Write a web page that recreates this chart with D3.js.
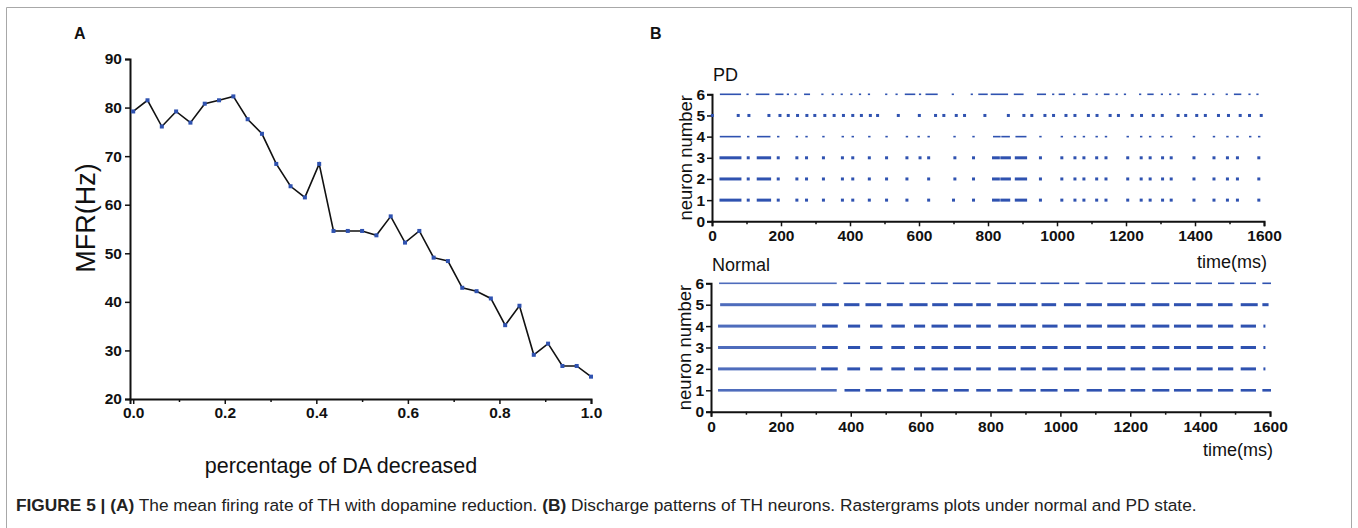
<!DOCTYPE html>
<html>
<head>
<meta charset="utf-8">
<title>Figure 5</title>
<script src="https://d3js.org/d3.v7.min.js"></script>
<style>
body { margin: 0; background: #fff; }
text { font-family: "Liberation Sans", Arial, sans-serif; }
</style>
</head>
<body>
<div id="chart"></div>
<script type="text/javascript">

// ---- panel A data: mean firing rate vs percentage of DA decreased
var daLevels = [0, 0.03125, 0.0625, 0.09375, 0.125, 0.15625, 0.1875, 0.21875, 0.25, 0.28125,
  0.3125, 0.34375, 0.375, 0.40625, 0.4375, 0.46875, 0.5, 0.53125, 0.5625, 0.59375,
  0.625, 0.65625, 0.6875, 0.71875, 0.75, 0.78125, 0.8125, 0.84375, 0.875, 0.90625,
  0.9375, 0.96875, 1.0];
var mfr = [79.2, 81.5, 76.1, 79.2, 76.9, 80.8, 81.5, 82.3, 77.6, 74.6,
  68.4, 63.8, 61.5, 68.4, 54.6, 54.6, 54.6, 53.7, 57.6, 52.2,
  54.6, 49.1, 48.4, 42.9, 42.2, 40.7, 35.2, 39.2, 29.1, 31.4,
  26.8, 26.8, 24.6];
var aTicksY = [20, 30, 40, 50, 60, 70, 80, 90];
var aTicksX = [0, 0.2, 0.4, 0.6, 0.8, 1.0];

// ---- panel B data: spike times (ms); a pair is a burst [start, end]
var neurons = [1, 2, 3, 4, 5, 6];
var pd1 = [[26,81],105,[134,167],192,246,274,323,378,408,456,506,565,628,700,758,[816,830],[840,860],[882,909],952,1014,1052,1078,1115,1142,1205,1244,1270,1306,1331,1397,1455,1494,1523,1585];
var pd2 = [[26,81],105,[134,167],192,246,274,323,378,408,456,506,565,628,704,758,[816,830],[840,862],[882,909],952,1014,1052,1078,1115,1142,1205,1244,1270,1306,1331,1397,1455,1494,1523,1585];
var pd3 = [[26,81],105,[134,167],192,246,274,323,378,408,456,506,565,603,628,704,758,[816,830],[840,862],[882,909],952,1014,1052,1078,1115,1142,1205,1244,1270,1306,1331,1397,1455,1494,1523,1585];
var pd4 = [[26,80],105,[134,166],192,246,274,323,379,408,456,506,565,599,628,703,758,[818,833],[842,860],[883,908],952,1014,1052,1078,1115,1142,1205,1244,1270,1306,1331,1397,1455,1494,1523,1560,1586];
var pd5 = [1,76,107,165,197,221,248,275,298,327,354,381,408,433,459,480,540,601,648,672,708,732,791,859,904,927,965,990,1026,1052,1091,1116,1154,1178,1218,1245,1279,1305,1351,1373,1405,1430,1468,1497,1531,1558,1592];
var pd6 = [[26,81],103,[130,163],[187,204],220,242,[270,281],320,350,376,404,429,455,505,535,[562,586],603,[622,651],698,753,[775,796],[811,855],[878,900],[945,965],989,[1008,1020],1050,[1076,1086],1115,[1139,1149],1173,1197,1241,[1265,1277],1304,1328,1352,[1393,1405],1429,1453,1492,[1516,1531],1558,1581];

var nm1 = [[23,357],[385,424],[445,484],[506,546],[571,610],[636,675],[698,735],[762,798],[822,860],[886,927],[946,989],[1013,1051],[1078,1116],[1140,1183],[1204,1240],[1266,1309],[1328,1371],[1393,1433],[1454,1492],[1519,1557],[1581,1600]];
var nm2 = [[23,298],[318,360],[393,424],[458,488],[519,552],[584,610],[634,675],[698,741],[762,798],[825,870],[889,927],[951,989],[1013,1056],[1078,1116],[1137,1183],[1204,1240],[1266,1309],[1328,1371],[1393,1433],[1454,1492],[1519,1557],[1584,1584]];
var nm3 = [[23,298],[321,360],[395,424],[458,488],[519,552],[584,610],[634,675],[698,741],[762,798],[825,870],[889,927],[951,989],[1013,1056],[1078,1116],[1137,1183],[1204,1240],[1266,1309],[1328,1371],[1393,1433],[1454,1492],[1519,1557],[1584,1584]];
var nm4 = [[23,298],[321,360],[395,424],[458,488],[519,552],[584,610],[634,675],[698,741],[762,798],[825,870],[889,927],[951,989],[1013,1056],[1078,1116],[1137,1183],[1204,1240],[1266,1309],[1328,1371],[1393,1433],[1454,1492],[1519,1557],[1584,1584]];
var nm5 = [[29,298],[321,363],[384,422],[445,484],[506,546],[571,617],[636,675],[698,746],[762,798],[822,870],[886,932],[949,985],[1013,1056],[1078,1116],[1137,1185],[1204,1240],[1266,1309],[1328,1371],[1393,1433],[1454,1490],[1519,1562],[1581,1593]];
var nm6 = [[26,357],[382,424],[445,484],[506,550],[571,610],[632,675],[695,741],[760,797],[822,870],[886,927],[946,994],[1013,1051],[1075,1118],[1137,1183],[1202,1240],[1263,1309],[1328,1371],[1390,1431],[1454,1495],[1517,1557],[1581,1600]];

var pdTrains = [pd1, pd2, pd3, pd4, pd5, pd6];
var normalTrains = [nm1, nm2, nm3, nm4, nm5, nm6];
var bTicksX = [0, 200, 400, 600, 800, 1000, 1200, 1400, 1600];
var bTicksY = [0, 1, 2, 3, 4, 5, 6];

var blue = "#2f52b0";
var W = 1358, H = 528;

var svg = d3.select("#chart").append("svg")
  .attr("width", W).attr("height", H);

// frame
svg.append("path").attr("d", "M6.5," + H + "V7.5H1351.5V" + H)
  .attr("fill", "none").attr("stroke", "#a8a8a8").attr("stroke-width", 1);

function styleTicks(g){
  g.selectAll(".domain").attr("stroke", "#111").attr("stroke-width", 2);
  g.selectAll(".tick line").attr("stroke", "#111").attr("stroke-width", 1.5);
  g.selectAll(".tick text")
    .style("font-size", "15.5px").style("font-weight", "bold")
    .style("font-family", "'Liberation Sans', Arial, sans-serif")
    .attr("fill", "#111");
}

// ================= panel A =================
var ax = d3.scaleLinear().domain([-0.007, 1.0]).range([130, 591]);
var ay = d3.scaleLinear().domain([20, 90]).range([399, 59]);

var gA = svg.append("g");

gA.append("g").attr("transform", "translate(130,0)")
  .call(d3.axisLeft(ay).tickValues(aTicksY).tickSize(5).tickPadding(3).tickFormat(d3.format("d")));
gA.append("g").attr("transform", "translate(0,399)")
  .call(d3.axisBottom(ax).tickValues(aTicksX).tickSize(5).tickPadding(3).tickFormat(d3.format(".1f")));
// minor ticks on x
gA.append("g").attr("transform", "translate(0,399)")
  .call(d3.axisBottom(ax).tickValues([0.1, 0.3, 0.5, 0.7, 0.9]).tickSize(3).tickFormat(""))
  .select(".domain").remove();
styleTicks(gA);

var line = d3.line().x(function(d, i){ return ax(daLevels[i]); }).y(function(d){ return ay(d); });
gA.append("path").datum(mfr).attr("d", line)
  .attr("fill", "none").attr("stroke", "#111").attr("stroke-width", 1.6);

gA.selectAll("rect.pt").data(mfr).enter().append("rect").attr("class", "pt")
  .attr("x", function(d, i){ return ax(daLevels[i]) - 2; })
  .attr("y", function(d){ return ay(d) - 2; })
  .attr("width", 4).attr("height", 4).attr("fill", blue);

gA.append("text")
  .attr("transform", "translate(95," + 218 + ") rotate(-90)")
  .attr("text-anchor", "middle").attr("font-size", 27).attr("fill", "#111")
  .text("MFR(Hz)");

gA.append("text").attr("x", 341).attr("y", 473)
  .attr("text-anchor", "middle").attr("font-size", 21.5).attr("fill", "#111")
  .text("percentage of DA decreased");

svg.append("text").attr("x", 74).attr("y", 39).attr("font-size", 16).attr("font-weight", "bold")
  .attr("fill", "#111").text("A");
svg.append("text").attr("x", 650).attr("y", 39).attr("font-size", 16).attr("font-weight", "bold")
  .attr("fill", "#111").text("B");

// ================= panel B =================
function spans(train){
  return train.map(function(e){ return Array.isArray(e) ? e : [e, e]; });
}

// per neuron mark style (index 0 = neuron 1)
var pdMarkH = [3, 3, 3, 1.6, 3, 1.6];
var pdMarkW = [3, 3, 3, 2.4, 3, 2.2];
var nmMarkH = [2.6, 3, 3, 3, 3, 1.6];

function raster(trains, x0, x1, y0, y1, title, titleY, xlabY, markH, markW){
  var x = d3.scaleLinear().domain([0, 1600]).range([x0, x1]);
  var y = d3.scaleLinear().domain([0, 6]).range([y1, y0]);
  var g = svg.append("g");

  g.append("g").attr("transform", "translate(" + x0 + ",0)")
    .call(d3.axisLeft(y).tickValues(bTicksY).tickSize(5).tickPadding(2).tickFormat(d3.format("d")));
  g.append("g").attr("transform", "translate(0," + y1 + ")")
    .call(d3.axisBottom(x).tickValues(bTicksX).tickSize(5).tickPadding(4).tickFormat(d3.format("d")));
  g.append("g").attr("transform", "translate(0," + y1 + ")")
    .call(d3.axisBottom(x).tickValues([100, 300, 500, 700, 900, 1100, 1300, 1500]).tickSize(3).tickFormat(""))
    .select(".domain").remove();
  styleTicks(g);

  trains.forEach(function(train, k){
    var h = markH[k], w = markW ? markW[k] : 2;
    g.selectAll("rect.n" + k).data(spans(train)).enter().append("rect").attr("class", "n" + k)
      .attr("x", function(d){ return x(d[0]) - w / 2; })
      .attr("width", function(d){ return x(d[1]) - x(d[0]) + w; })
      .attr("y", y(neurons[k]) - h / 2)
      .attr("height", h)
      .attr("fill", blue)
      .attr("fill-opacity", function(d){ return d[1] - d[0] > 150 ? 0.85 : 1; });
  });

  g.append("text").attr("x", x0 + 1).attr("y", titleY)
    .attr("font-size", 18).attr("fill", "#111").text(title);
  g.append("text")
    .attr("transform", "translate(" + (x0 - 20) + "," + ((y0 + y1) / 2) + ") rotate(-90)")
    .attr("text-anchor", "middle").attr("font-size", 18.5).attr("fill", "#111")
    .text("neuron number");
  g.append("text").attr("x", x1 + 3).attr("y", xlabY)
    .attr("text-anchor", "end").attr("font-size", 18).attr("fill", "#111")
    .text("time(ms)");
}

raster(pdTrains, 712, 1264, 94.3, 221.3, "PD", 81, 268, pdMarkH, pdMarkW);
raster(normalTrains, 711, 1270, 283.3, 411.7, "Normal", 271, 456, nmMarkH, null);

// ================= caption =================
var cap = svg.append("text").attr("x", 16).attr("y", 511)
  .attr("font-family", "Liberation Sans Narrow, Liberation Sans, Arial, sans-serif")
  .attr("font-size", 15).attr("fill", "#222");
cap.append("tspan").attr("font-weight", "bold").text("FIGURE 5 | (A)");
cap.append("tspan").text(" The mean firing rate of TH with dopamine reduction. ");
cap.append("tspan").attr("font-weight", "bold").text("(B)");
cap.append("tspan").text(" Discharge patterns of TH neurons. Rastergrams plots under normal and PD state.");
var capW = cap.node().getComputedTextLength();
cap.attr("font-size", 15 * 1181 / capW);

</script>
</body>
</html>
